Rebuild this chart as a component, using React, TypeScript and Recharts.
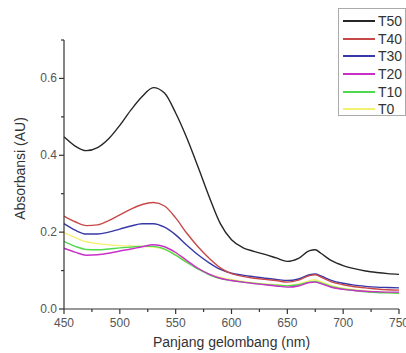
import React from 'react'
import { LineChart, Line, XAxis, YAxis } from 'recharts'

// wavelength (nm)
const wavelengths = [450, 460, 470, 480, 490, 500, 510, 520, 530, 540, 550, 560, 570, 580, 590, 600, 610, 620, 630, 640, 650, 660, 670, 675, 680, 690, 700, 710, 720, 730, 740, 750]

const t50 = [0.448, 0.424, 0.412, 0.42, 0.443, 0.478, 0.518, 0.553, 0.576, 0.562, 0.51, 0.445, 0.37, 0.292, 0.222, 0.18, 0.16, 0.15, 0.142, 0.133, 0.124, 0.132, 0.152, 0.154, 0.145, 0.125, 0.113, 0.105, 0.099, 0.095, 0.092, 0.09]
const t40 = [0.242, 0.227, 0.217, 0.219, 0.23, 0.245, 0.26, 0.272, 0.277, 0.268, 0.237, 0.197, 0.162, 0.132, 0.107, 0.092, 0.085, 0.08, 0.077, 0.074, 0.07, 0.075, 0.087, 0.089, 0.083, 0.07, 0.063, 0.058, 0.055, 0.052, 0.05, 0.049]
const t30 = [0.222, 0.205, 0.195, 0.195, 0.2, 0.208, 0.216, 0.222, 0.222, 0.213, 0.193, 0.166, 0.141, 0.12, 0.103, 0.093, 0.088, 0.084, 0.08, 0.077, 0.074, 0.078, 0.089, 0.091, 0.086, 0.074, 0.067, 0.062, 0.059, 0.057, 0.056, 0.055]
const t20 = [0.158, 0.148, 0.14, 0.141, 0.145, 0.151, 0.156, 0.162, 0.167, 0.162, 0.147, 0.126, 0.106, 0.091, 0.08, 0.074, 0.07, 0.066, 0.063, 0.06, 0.057, 0.06, 0.069, 0.07, 0.066, 0.056, 0.051, 0.048, 0.046, 0.045, 0.044, 0.044]
const t10 = [0.176, 0.163, 0.155, 0.154, 0.156, 0.159, 0.161, 0.163, 0.163, 0.156, 0.14, 0.121, 0.104, 0.089, 0.079, 0.074, 0.07, 0.067, 0.064, 0.062, 0.06, 0.063, 0.07, 0.072, 0.068, 0.058, 0.052, 0.048, 0.045, 0.043, 0.042, 0.041]
const t0 = [0.199, 0.186, 0.175, 0.17, 0.167, 0.165, 0.164, 0.163, 0.161, 0.155, 0.141, 0.123, 0.106, 0.091, 0.082, 0.077, 0.072, 0.068, 0.065, 0.063, 0.061, 0.065, 0.074, 0.076, 0.071, 0.06, 0.054, 0.05, 0.047, 0.045, 0.043, 0.042]

const xTicks = [450, 475, 500, 525, 550, 575, 600, 625, 650, 675, 700, 725, 750]
const yTicks = [0, 0.1, 0.2, 0.3, 0.4, 0.5, 0.6, 0.7]

const series = [
  { key: 'T50', values: t50, color: '#262626' },
  { key: 'T40', values: t40, color: '#c84848' },
  { key: 'T30', values: t30, color: '#3838a8' },
  { key: 'T20', values: t20, color: '#c830c8' },
  { key: 'T10', values: t10, color: '#50d850' },
  { key: 'T0', values: t0, color: '#f4f070' },
]

const data = wavelengths.map((wl, i) => {
  const row: any = { wl }
  series.forEach(s => { row[s.key] = s.values[i] })
  return row
})

const font = 'Liberation Sans, Arial, sans-serif'

function XTick({ x, y, payload }: any) {
  const major = payload.value % 50 === 0
  return (
    <g>
      <line x1={x} x2={x} y1={y} y2={y + (major ? 5 : 3)} stroke='#333' strokeWidth={1.2} />
      {major && (
        <text x={x} y={y + 18} textAnchor='middle' fontSize={12} fill='#555' fontFamily={font}>{payload.value}</text>
      )}
    </g>
  )
}

function YTick({ x, y, payload }: any) {
  const major = Math.round(payload.value * 10) % 2 === 0
  return (
    <g>
      <line x1={x - (major ? 5 : 3)} x2={x} y1={y} y2={y} stroke='#333' strokeWidth={1.2} />
      {major && (
        <text x={x - 7} y={y + 4} textAnchor='end' fontSize={12} fill='#555' fontFamily={font}>{payload.value.toFixed(1)}</text>
      )}
    </g>
  )
}

function LegendBox() {
  return (
    <div style={{ position: 'absolute', left: 338, top: 8, width: 68, height: 108, border: '1px solid #aaa', background: '#fff', boxSizing: 'border-box', padding: '3px 0 0 4px' }}>
      {series.map(s => (
        <div key={s.key} style={{ display: 'flex', alignItems: 'center', height: 17.7 }}>
          <div style={{ width: 32, height: 0, borderTop: `2px solid ${s.color}` }} />
          <span style={{ marginLeft: 3, fontSize: 14, color: '#333', fontFamily: font, lineHeight: '14px' }}>{s.key}</span>
        </div>
      ))}
    </div>
  )
}

export default function App() {
  return (
    <div style={{ position: 'relative', width: 406, height: 353, overflow: 'hidden' }}>
      <style>{'body{margin:0}'}</style>
      <LineChart width={406} height={353} data={data} margin={{ top: 40, right: 7, left: 0, bottom: 0 }}>
        <XAxis
          dataKey='wl'
          type='number'
          domain={[450, 750]}
          ticks={xTicks}
          height={44}
          tickSize={0}
          tickMargin={0}
          tickLine={false}
          tick={<XTick />}
          axisLine={{ stroke: '#333', strokeWidth: 1.2 }}
          interval={0}
          label={{
            content: ({ viewBox }: any) => (
              <text x={viewBox.x + viewBox.width / 2} y={viewBox.y + 38} textAnchor='middle' fontSize={14} fill='#333' fontFamily={font}>Panjang gelombang (nm)</text>
            ),
          }}
        />
        <YAxis
          type='number'
          domain={[0, 0.7]}
          ticks={yTicks}
          width={64}
          tickSize={0}
          tickMargin={0}
          tickLine={false}
          tick={<YTick />}
          axisLine={{ stroke: '#333', strokeWidth: 1.2 }}
          interval={0}
          label={{
            content: ({ viewBox }: any) => {
              const cx = 20
              const cy = viewBox.y + viewBox.height / 2 - 6
              return (
                <text x={cx} y={cy} transform={`rotate(-90 ${cx} ${cy})`} textAnchor='middle' dominantBaseline='central' fontSize={14} fill='#333' fontFamily={font}>Absorbansi (AU)</text>
              )
            },
          }}
        />
        {series.slice().reverse().map(s => (
          <Line key={s.key} dataKey={s.key} type='monotone' stroke={s.color} strokeWidth={1.4} dot={false} isAnimationActive={false} />
        ))}
      </LineChart>
      <LegendBox />
    </div>
  )
}
